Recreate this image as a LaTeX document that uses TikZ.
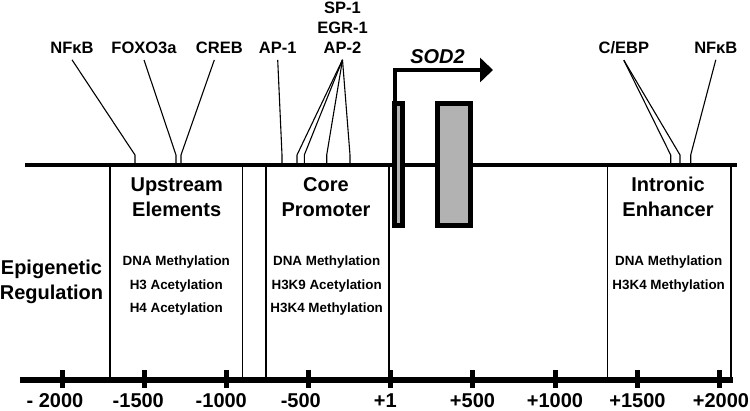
\documentclass[tikz,border=0pt]{standalone}
\usepackage{fontspec}
\setmainfont{Liberation Sans}
\usetikzlibrary{arrows.meta}

\tikzset{
    tf/.style={font=\fontsize{16.5}{20}\selectfont\bfseries, inner sep=0pt, outer xsep=0pt, outer ysep=6.5pt, anchor=base},
    region/.style={font=\fontsize{20}{25}\selectfont\bfseries, align=center, inner sep=0pt, anchor=base},
    marks/.style={font=\fontsize{13.4}{23.3}\selectfont\bfseries, align=center, inner sep=0pt, anchor=base},
    ticklabel/.style={font=\fontsize{20}{24}\selectfont\bfseries, inner sep=0pt, anchor=base},
    exon/.style={line width=5pt, fill=black!30},
    site/.style={line width=1.1pt},
    divider/.style={line width=1.1pt}
}

\begin{document}
\begin{tikzpicture}[x=1pt,y=-1pt]
        \useasboundingbox (0,0) rectangle (750,411); % same frame as the figure

        % binding sites on the promoter line
        \foreach \n/\x in {s1/135, s2/176, s3/181, s4/282, s5/297, s6/304.3, s7/326.7, s8/350, s9/670.7, s10/680, s11/690.7}{
            \coordinate (\n) at (\x,165);
        }

        % transcription factors
        \node[tf] (nfkbL) at (72,53.3) {NFκB};
        \node[tf] (foxo) at (144,53.3) {FOXO3a};
        \node[tf] (creb) at (219.3,53.3) {CREB};
        \node[tf] (apone) at (277.7,53.3) {AP-1};
        \node[tf] (spone) at (342.5,13.3) {SP-1};
        \node[tf] (egr) at (342.5,33.3) {EGR-1};
        \node[tf] (aptwo) at (342.5,53.3) {AP-2};
        \node[tf] (cebp) at (623.8,53.3) {C/EBP};
        \node[tf] (nfkbR) at (715.8,53.3) {NFκB};

        \draw[site] (nfkbL.south) -- ([yshift=10pt]s1) -- (s1);
        \draw[site] (foxo.south) -- ([yshift=10pt]s2) -- (s2);
        \draw[site] ([xshift=-5pt]creb.south) -- ([yshift=10pt]s3) -- (s3);
        \draw[site] (apone.south) -- ([yshift=10pt]s4) -- (s4);
        \foreach \s in {s5,s6,s7,s8}{
            \draw[site] (aptwo.south) -- ([yshift=10pt]\s) -- (\s);
        }
        \draw[site] (cebp.south) -- ([yshift=10pt]s9) -- (s9);
        \draw[site] (cebp.south) -- ([yshift=10pt]s10) -- (s10);
        \draw[site] (nfkbR.south) -- ([yshift=10pt]s11) -- (s11);

        % region borders
        \foreach \x in {110,242.3,266,389,607.7,731}{
            \draw[divider] (\x,165) -- (\x,380);
        }

        \draw[line width=4pt] (25,165) -- (737,165); % gene
        \draw[line width=5.5pt] (20,380) -- (733,380); % position axis
        \foreach \x/\lx/\t [count=\i] in {62/55/{- 2000}, 144/138.3/-1500, 226.5/221.3/-1000, 308.5/300.8/-500, 390.5/385.3/+1, 472.7/472.5/+500, 555/555/+1000, 637.3/637.5/+1500, 719.3/721/+2000}{
            \draw[line width=5pt] (\x,370) -- (\x,388);
            \node[ticklabel] (t\i) at (\lx,408) {\t};
        }

        % exons and start of transcription
        \draw[exon] (394,104) rectangle (402.7,225.5);
        \draw[exon] (437.5,104) rectangle (470.2,225.5);
        \draw[line width=4.7pt, -{Triangle[length=13pt,width=24pt]}] (395,104) |- (493,70);
        \node[font=\fontsize{20}{24}\selectfont\bfseries\itshape, inner sep=0pt, anchor=base] (gene) at (437.5,63.3) {SOD2};

        % base anchor sits on the last line
        \node[region] (upstream) at (176.7,216.5) {Upstream\\Elements};
        \node[region] (core) at (326,216.5) {Core\\Promoter};
        \node[region] (intronic) at (668,216.5) {Intronic\\Enhancer};
        \node[region] (epi) at (51.5,300) {Epigenetic\\Regulation};

        \node[marks] (mup) at (176.3,312.6) {DNA Methylation\\H3 Acetylation\\H4 Acetylation};
        \node[marks] (mcore) at (326.7,312.6) {DNA Methylation\\H3K9 Acetylation\\H3K4 Methylation};
        \node[marks] (mintron) at (668.7,289.3) {DNA Methylation\\H3K4 Methylation};
\end{tikzpicture}
\end{document}
